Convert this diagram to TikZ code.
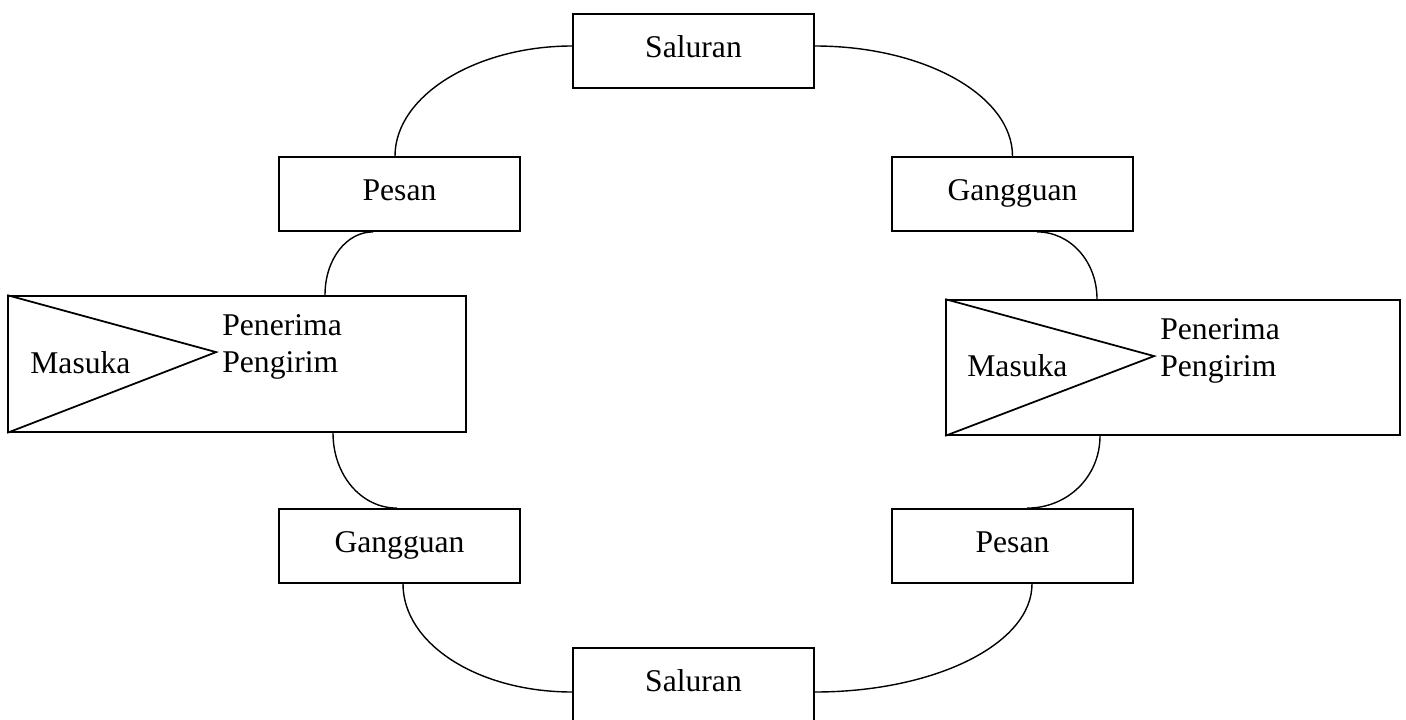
\documentclass[tikz,border=0pt]{standalone}
\usepackage{fontspec}
\setmainfont{Liberation Serif}

\begin{document}
\begin{tikzpicture}[x=0.2mm, y=0.2mm, font=\fontsize{18}{21}\selectfont,
  box/.style={draw, line width=1pt, inner sep=0pt, minimum width=48.2mm, minimum height=14.8mm, text height=12pt, text depth=5pt},
  bigbox/.style={draw, line width=1pt, inner sep=0pt},
  wire/.style={line width=0.8pt}]
\useasboundingbox (0,0) rectangle (1406,719);
\clip (0,0) rectangle (1406,719);

% ring of small boxes
\node [box] (salT) at (693.5,668)  {Saluran};
\node [box] (pesL) at (399.5,525)  {Pesan};
\node [box] (ganR) at (1012.5,525) {Gangguan};
\node [box] (ganL) at (399.5,173)  {Gangguan};
\node [box] (pesR) at (1012.5,173) {Pesan};
\node [box] (salB) at (693.5,34)   {Saluran};

% the two big blocks
\node [bigbox, minimum width=91.6mm, minimum height=27.2mm] (mL) at (237,355)    {};
\node [bigbox, minimum width=90.8mm, minimum height=27mm]   (mR) at (1173,351.5) {};
\foreach \b in {mL,mR} {
  \draw [line width=1pt] (\b.north west) -- ++(209,-57) -- (\b.south west);
}
\begin{scope}[every node/.style={inner sep=0pt, anchor=base west}]
\node (masL) at (30,346)   {Masuka};
\node (terL) at (222,384)  {Penerima};
\node (kirL) at (222,347)  {Pengirim};
\node (masR) at (967,343)  {Masuka};
\node (terR) at (1160,380) {Penerima};
\node (kirR) at (1160,343) {Pengirim};
\end{scope}

% links
\draw [wire] ([yshift=1mm]salT.west) to[out=180, in=90, out distance=19.2mm, in distance=12.1mm] ([xshift=-0.9mm]pesL.north);
\draw [wire] ([yshift=1mm]salT.east) to[out=0, in=90, out distance=21.9mm, in distance=12.1mm] (ganR.north);
\draw [wire] ([xshift=-5.3mm]pesL.south) to[out=180, in=90, out distance=5.3mm, in distance=7.2mm] ([xshift=17.6mm]mL.north);
\draw [wire] ([xshift=4.9mm]ganR.south) to[out=0, in=90, out distance=6.6mm, in distance=7.6mm] ([xshift=-15.2mm]mR.north);
\draw [wire] ([xshift=19.2mm]mL.south) to[out=270, in=180, out distance=8.5mm, in distance=7.1mm] ([xshift=-0.5mm]ganL.north);
\draw [wire] ([xshift=-14.6mm]mR.south) to[out=270, in=0, out distance=8.2mm, in distance=8.1mm] ([xshift=2.9mm]pesR.north);
\draw [wire] ([xshift=0.7mm]ganL.south) to[out=270, in=180, out distance=12mm, in distance=18.8mm] ([yshift=-1.4mm]salB.west);
\draw [wire] ([xshift=3.9mm]pesR.south) to[out=270, in=0, out distance=12mm, in distance=24mm] ([yshift=-1.4mm]salB.east);
\end{tikzpicture}
\end{document}
